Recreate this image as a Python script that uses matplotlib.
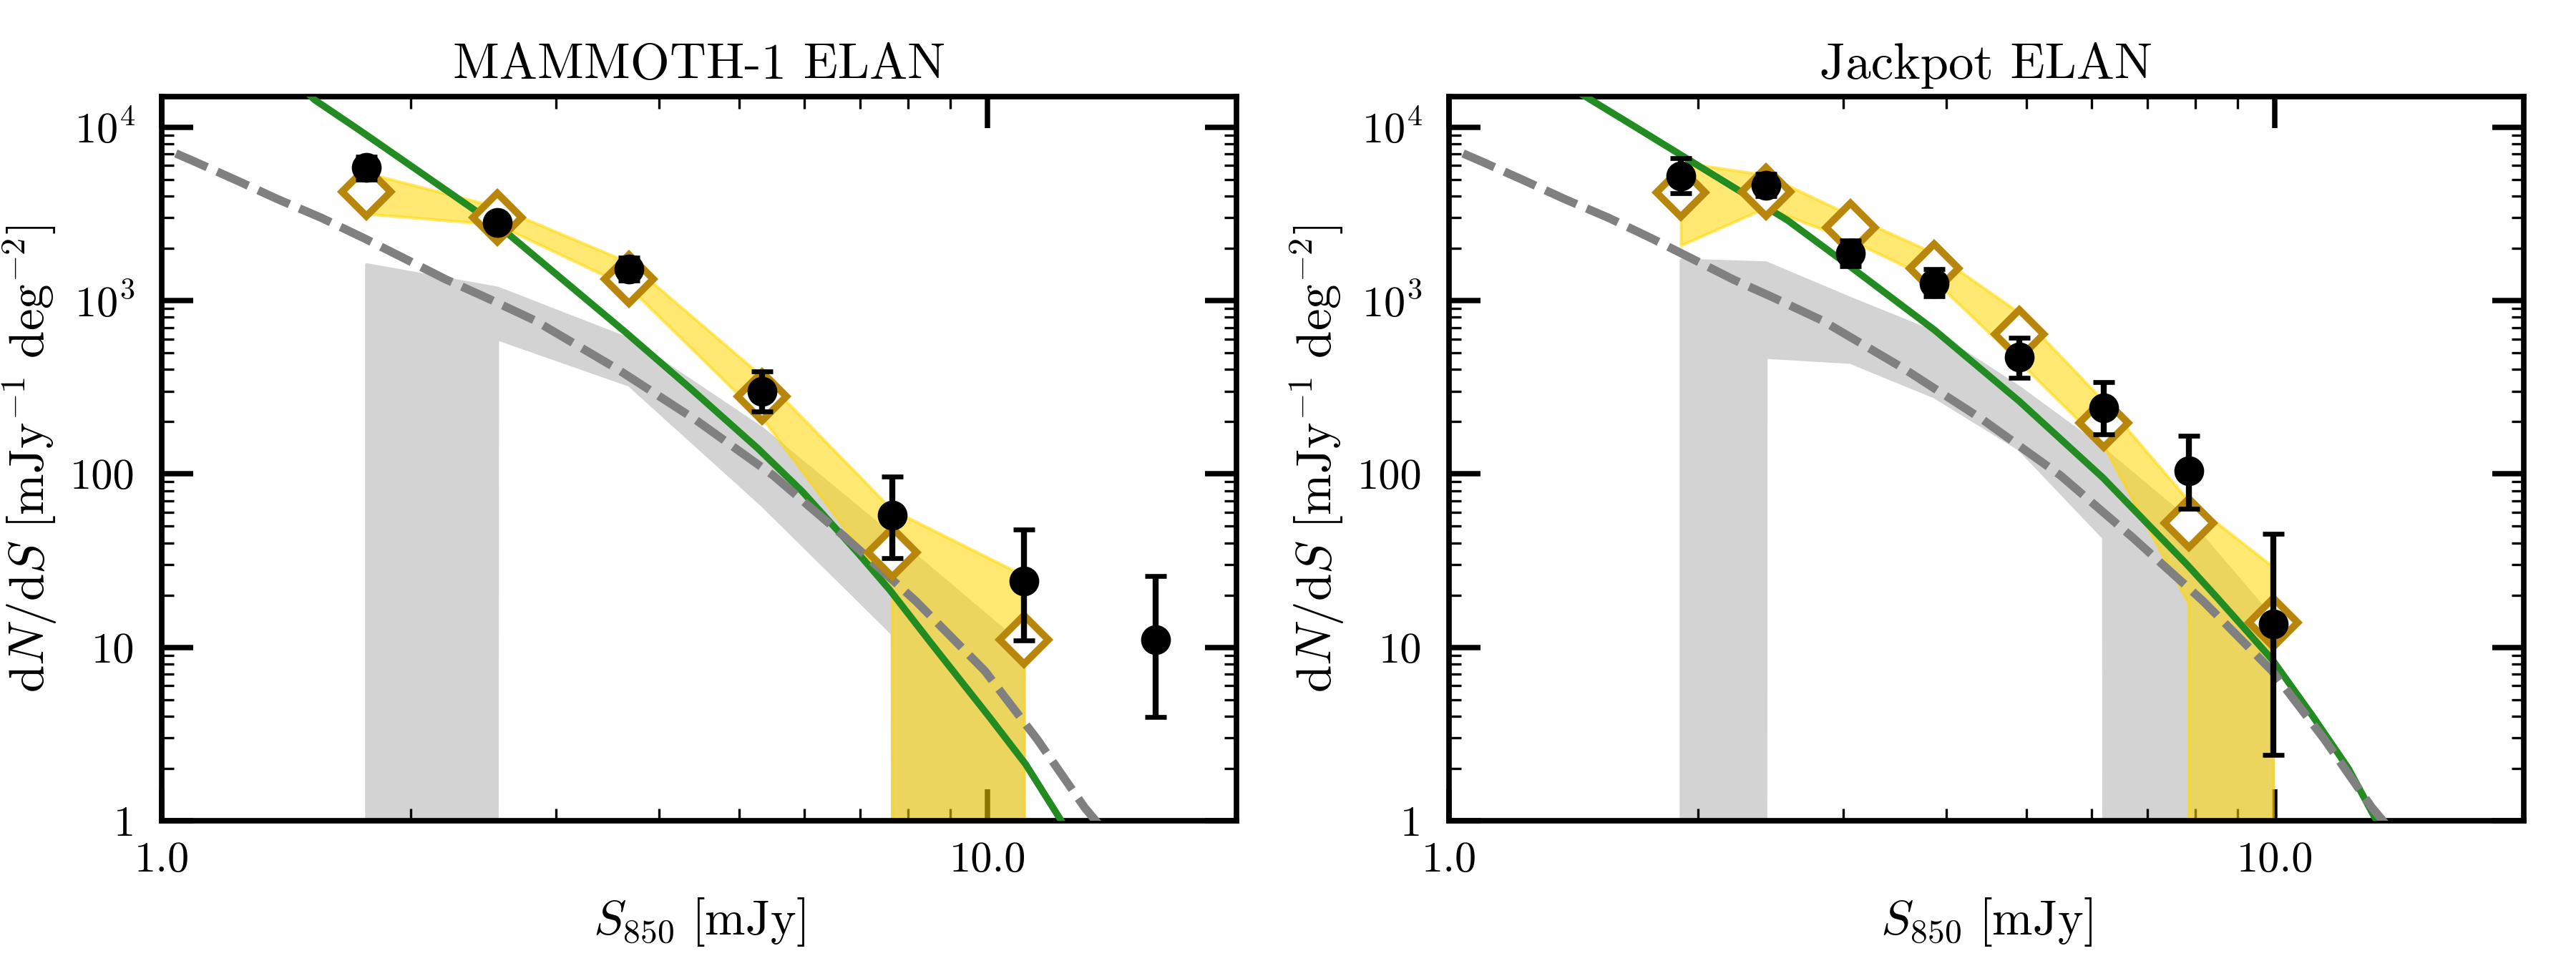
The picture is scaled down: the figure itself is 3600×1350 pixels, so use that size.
import matplotlib
matplotlib.use("Agg")
import matplotlib.pyplot as plt
import numpy as np
from matplotlib.ticker import FixedLocator, FixedFormatter, LogLocator, NullFormatter

plt.rcParams["font.family"] = "serif"
plt.rcParams["font.serif"] = ["cmr10"]
plt.rcParams["mathtext.fontset"] = "cm"
plt.rcParams["axes.formatter.use_mathtext"] = True
plt.rcParams["axes.unicode_minus"] = False

# ---- MAMMOTH-1 ELAN ----
m1_flux = [1.77, 2.55, 3.68, 5.33, 7.66, 11.07, 15.97]
m1_counts = [5830, 2820, 1517, 300, 57.8, 24.2, 11.1]
m1_lo = [5000, 2600, 1310, 229, 32.8, 11.0, 3.98]
m1_hi = [6750, 3050, 1770, 389, 96.2, 47.6, 25.8]
m1_model_flux = [1.77, 2.55, 3.68, 5.33, 7.66, 11.07]
m1_model = [4245, 3010, 1334, 279, 35.2, 11.1]
m1_yel_hi = [5420, 3450, 1650, 365, 62, 25.8]
m1_yel_lo = [3150, 2730, 1190, 211, 21, 0]
m1_gray_hi = [1610, 1180, 598, 183, 44, 10]
m1_gray_lo = [0, 600, 325, 66, 12, 0]
m1_fit_x = [1.50, 1.53, 1.73, 1.92, 2.42, 2.57, 3.65, 4.39, 5.27, 5.96, 6.94,
            7.61, 8.52, 10.07, 11.11, 12.27, 12.5]
m1_fit_y = [15800, 14400, 9700, 6880, 3200, 2640, 651, 304, 140, 79.3, 35.6,
            21.4, 10.7, 3.9, 2.12, 1.0, 0.87]

# ---- Jackpot ELAN ----
jp_flux = [1.91, 2.42, 3.06, 3.87, 4.90, 6.20, 7.86, 9.95]
jp_counts = [5200, 4630, 1870, 1260, 470, 240, 104, 13.6]
jp_lo = [4140, 4010, 1577, 1057, 358, 169, 63, 2.40]
jp_hi = [6620, 5350, 2218, 1513, 612, 339, 166, 45]
jp_model = [4180, 4245, 2640, 1530, 640, 197, 52, 13.9]
jp_yel_hi = [6250, 5270, 3100, 1866, 850, 263, 70, 29]
jp_yel_lo = [2070, 3410, 2230, 1300, 445, 146, 17.9, 0]
jp_gray_hi = [1710, 1650, 1030, 655, 316, 139, 54, 14.5]
jp_gray_lo = [0, 470, 440, 278, 139, 42.8, 0, 0]
jp_fit_x = [1.45, 1.70, 2.07, 2.57, 3.06, 3.87, 4.90, 6.19, 7.84, 8.52, 9.93,
            11.11, 12.27, 13.27, 13.5]
jp_fit_y = [15400, 9700, 5450, 2900, 1570, 676, 263, 95, 29.7, 19.2, 8.45,
            4.0, 2.0, 1.0, 0.86]

# field counts (dashed), same in both panels
field_x = [1.04, 1.09, 1.23, 1.38, 1.56, 1.76, 1.98, 2.21, 2.47, 2.83, 3.55,
           4.43, 5.50, 6.72, 8.18, 9.92, 11.48, 13.1, 13.9]
field_y = [7050, 6400, 4950, 3850, 3000, 2280, 1720, 1320, 1040, 767, 406,
           205, 97.9, 43.1, 18.5, 7.3, 2.94, 1.19, 0.85]

x_ticks = [1, 10]
x_labels = ["1.0", "10.0"]
y_ticks = [1, 10, 100, 1000, 10000]
y_labels = ["1", "10", "100", r"$10^3$", r"$10^4$"]


def draw_panel(ax, title, flux, counts, lo, hi, model_flux, model,
               yel_hi, yel_lo, gray_hi, gray_lo, fit_x, fit_y):
    counts = np.array(counts)
    yerr = [counts - np.array(lo), np.array(hi) - counts]

    ax.set_xscale("log")
    ax.set_yscale("log")

    ax.fill_between(model_flux, gray_lo, gray_hi, color="lightgray", lw=1, zorder=1)
    ax.fill_between(model_flux, yel_lo, yel_hi, color="gold", alpha=0.55, lw=1, zorder=2)
    ax.plot(fit_x, fit_y, color="forestgreen", lw=2.3, zorder=3)
    ax.plot(field_x, field_y, color="gray", lw=2.8, dashes=(4.1, 1.3), zorder=4)
    ax.plot(model_flux, model, "D", mfc="white", mec="darkgoldenrod", mew=2.4,
            ms=11.5, zorder=5)
    ax.errorbar(flux, counts, yerr=yerr, fmt="o", color="k", ms=9,
                elinewidth=2.0, capsize=3.5, capthick=1.6, zorder=6)

    ax.set_xlim(1, 20)
    ax.set_ylim(1, 1.5e4)

    ax.xaxis.set_major_locator(FixedLocator(x_ticks))
    ax.xaxis.set_major_formatter(FixedFormatter(x_labels))
    ax.xaxis.set_minor_locator(LogLocator(base=10, subs=range(2, 10)))
    ax.xaxis.set_minor_formatter(NullFormatter())
    ax.yaxis.set_major_locator(FixedLocator(y_ticks))
    ax.yaxis.set_major_formatter(FixedFormatter(y_labels))
    ax.yaxis.set_minor_locator(LogLocator(base=10, subs=range(2, 10)))
    ax.yaxis.set_minor_formatter(NullFormatter())

    ax.tick_params(which="both", direction="in", top=True, right=True)
    ax.tick_params(which="major", length=10.6, width=1.8, labelsize=14.5)
    ax.tick_params(which="minor", length=4, width=0.8)
    ax.tick_params(axis="x", which="major", pad=7)
    ax.tick_params(axis="y", which="major", pad=9)
    for sp in ax.spines.values():
        sp.set_linewidth(1.85)

    ax.set_title(title, fontsize=17)
    ax.set_xlabel(r"$S_{850}\ [\mathrm{mJy}]$", fontsize=16.3)
    ax.set_ylabel(r"$\mathrm{d}N/\mathrm{d}S\ [\mathrm{mJy}^{-1}\ \mathrm{deg}^{-2}]$",
                  fontsize=16.6)
    ax.yaxis.set_label_coords(-0.095, 0.5)
    ax.xaxis.set_label_coords(0.5, -0.104)


fig = plt.figure(figsize=(12, 4.5), dpi=300)
ax1 = fig.add_axes([0.0628, 0.1504, 0.4172, 0.7496])
ax2 = fig.add_axes([0.5625, 0.1504, 0.4172, 0.7496])

draw_panel(ax1, "MAMMOTH-1 ELAN", m1_flux, m1_counts, m1_lo, m1_hi,
           m1_model_flux, m1_model, m1_yel_hi, m1_yel_lo, m1_gray_hi, m1_gray_lo,
           m1_fit_x, m1_fit_y)
draw_panel(ax2, "Jackpot ELAN", jp_flux, jp_counts, jp_lo, jp_hi,
           jp_flux, jp_model, jp_yel_hi, jp_yel_lo, jp_gray_hi, jp_gray_lo,
           jp_fit_x, jp_fit_y)

fig.savefig("out.png", dpi=300)
